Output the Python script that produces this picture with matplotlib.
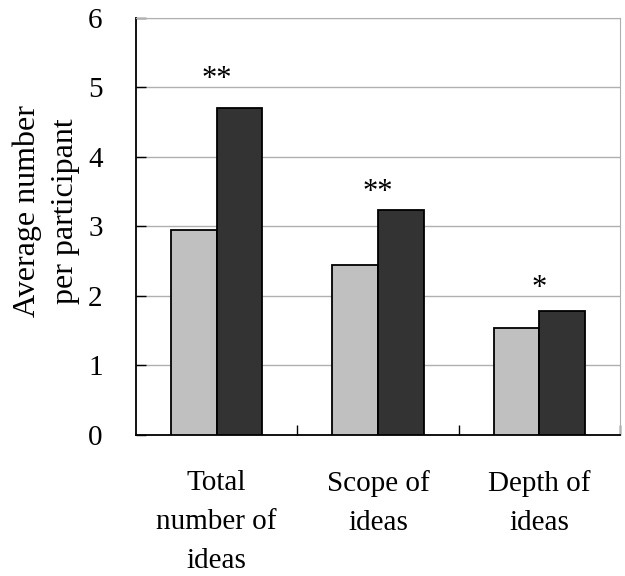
import matplotlib
matplotlib.use('Agg')
import matplotlib.pyplot as plt
import numpy as np

categories = ['Total\nnumber of\nideas', 'Scope of\nideas', 'Depth of\nideas']
control = [2.95, 2.44, 1.54]
treatment = [4.71, 3.24, 1.78]
stars = ['**', '**', '*']
star_y = [5.0, 3.38, 2.0]

plt.rcParams['font.family'] = ['Liberation Serif', 'DejaVu Serif']

fig = plt.figure(figsize=(6.25, 5.76), dpi=100)
ax = fig.add_axes([0.2176, 0.2448, 0.7744, 0.724])

x = np.arange(len(categories))
w = 0.283
ax.bar(x - w / 2, control, w, color='#c0c0c0', edgecolor='black', linewidth=1.3, zorder=3)
ax.bar(x + w / 2, treatment, w, color='#333333', edgecolor='black', linewidth=1.3, zorder=3)

for xi, s, sy in zip(x, stars, star_y):
    ax.text(xi, sy, s, ha='center', va='baseline', fontsize=22)

ax.set_xlim(-0.5, len(categories) - 0.5)
ax.set_ylim(0, 6)
ax.set_yticks(range(0, 7))
ax.yaxis.grid(True, color='#b0b0b0', linewidth=1, zorder=0)
ax.set_axisbelow(True)

ax.set_xticks(x)
ax.set_xticklabels(categories, fontsize=21, linespacing=1.65)
ax.tick_params(axis='x', which='major', length=0, pad=25)
ax.set_xticks(np.arange(0.5, len(categories), 1), minor=True)
ax.tick_params(axis='x', which='minor', direction='in', length=7.2, width=1)
ax.tick_params(axis='y', direction='in', length=7.2, width=1, labelsize=21, pad=24)

ax.spines['left'].set_linewidth(1.3)
ax.spines['bottom'].set_linewidth(1.3)
ax.spines['top'].set_color('#b0b0b0')
ax.spines['right'].set_color('#b0b0b0')

ax.text(-0.186, 0.537, 'Average number\nper participant', transform=ax.transAxes,
        rotation=90, ha='center', va='center', fontsize=23, linespacing=1.4)

fig.savefig('out.png', dpi=100)
